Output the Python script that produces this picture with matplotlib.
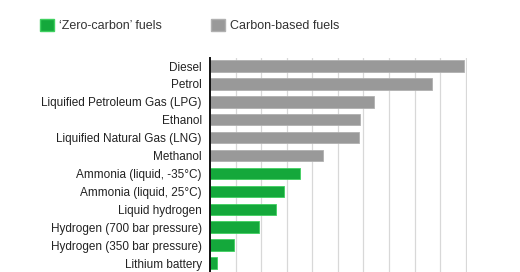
import matplotlib
matplotlib.use('Agg')
import matplotlib.pyplot as plt
from matplotlib.patches import Patch

LABELS = ['Diesel', 'Petrol', 'Liquified Petroleum Gas (LPG)', 'Ethanol',
          'Liquified Natural Gas (LNG)', 'Methanol', 'Ammonia (liquid, -35°C)',
          'Ammonia (liquid, 25°C)', 'Liquid hydrogen', 'Hydrogen (700 bar pressure)',
          'Hydrogen (350 bar pressure)', 'Lithium battery']
VALUES = [39.7, 34.8, 25.7, 23.5, 23.3, 17.6, 14.1, 11.6, 10.4, 7.6, 3.8, 1.1]
ZERO_CARBON = [False] * 6 + [True] * 6
GRID_TICKS = list(range(4, 41, 4))

GREEN, GREEN_EDGE = '#14a83b', '#3fd060'
GREY, GREY_EDGE = '#999999', '#b0b0b0'

plt.rcParams['font.family'] = ['Liberation Sans', 'DejaVu Sans']

fig = plt.figure(figsize=(5.2, 2.72), dpi=100)
ax = fig.add_axes([210 / 520, 0, 257 / 520, 1 - 57.5 / 272])

colors = [GREEN if z else GREY for z in ZERO_CARBON]
edges = [GREEN_EDGE if z else GREY_EDGE for z in ZERO_CARBON]
ax.barh(range(len(VALUES)), VALUES, height=0.64, color=colors,
        edgecolor=edges, linewidth=0.6, zorder=3)

ax.set_xlim(0, 40.2)
ax.set_ylim(11.5, -0.475)
ax.set_yticks(range(len(LABELS)))
ax.set_yticklabels(LABELS, fontsize=8.5, color='#222222')
ax.tick_params(axis='y', length=0, pad=6)
ax.set_xticks(GRID_TICKS)
ax.tick_params(axis='x', length=0, labelbottom=False)
ax.grid(axis='x', color='#d8d8d8', linewidth=0.9, zorder=0)

for side in ['top', 'right', 'bottom']:
    ax.spines[side].set_visible(False)
ax.spines['left'].set_color('#111111')
ax.spines['left'].set_linewidth(1.4)
ax.spines['left'].set_zorder(4)

handles = [Patch(facecolor=GREEN, edgecolor=GREEN_EDGE, label='\u2018Zero-carbon\u2019 fuels'),
           Patch(facecolor=GREY, edgecolor=GREY_EDGE, label='Carbon-based fuels')]
fig.legend(handles=handles, loc='upper left', bbox_to_anchor=(36 / 520, 1 - 15 / 272),
           ncol=2, frameon=False, fontsize=9, handlelength=1.1, handleheight=1.1,
           handletextpad=0.45, columnspacing=3.9, labelcolor='#333333',
           borderaxespad=0, borderpad=0.3)

fig.savefig('out.png', dpi=100)
